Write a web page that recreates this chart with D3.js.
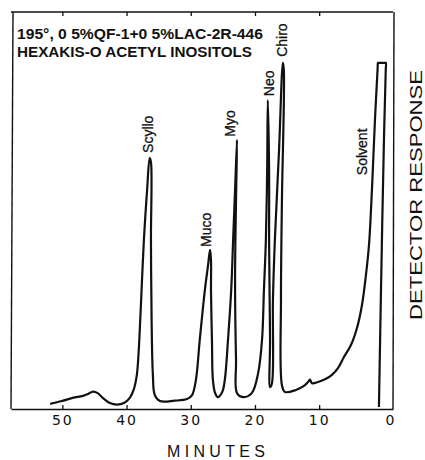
<!DOCTYPE html>
<html>
<head>
<meta charset="utf-8">
<script src="https://cdn.jsdelivr.net/npm/d3@7"></script>
<style>
body { margin: 0; background: #fff; }
text { font-family: "Liberation Sans", Arial, sans-serif; fill: #111; }
</style>
</head>
<body>
<svg width="425" height="460"></svg>
<script>
// trace: minutes (0 at the right) and detector response (0-100)
var traceMinutes = [51.9, 50.1, 48.4, 46.8, 46.0, 45.2, 44.5, 43.7, 42.6, 41.5, 40.4, 39.5, 38.9, 38.4, 38.1, 37.8, 37.3, 36.8, 36.4,
  36.2, 36.2, 36.1, 35.9, 35.6, 34.8, 32.5, 30.6, 29.8, 29.2, 28.6, 27.8, 27.3, 27.0,
  26.85, 26.85, 26.7, 26.55, 26.2, 25.8, 25.1, 24.7, 24.2, 23.7, 23.4, 23.1, 22.8,
  22.95, 23.1, 22.95, 22.8, 21.85, 20.5, 19.5, 18.9, 18.6, 18.3, 18.1, 18.0,
  17.8, 17.8, 17.65, 17.65, 17.35, 17.2, 16.9, 16.25, 15.65,
  15.5, 15.8, 15.95, 15.8, 15.33, 13.61, 12.37, 11.74, 11.43, 11.12, 10.19, 8.94, 8.01, 7.07, 6.14, 5.05,
  4.11, 3.33, 2.71, 2.24, 1.78, 1.31, 0.9, 0.84, 0.78, -0.34, -0.40, -0.37, -0.09, 0.37, 0.69];
var traceResponse = [1.3, 2.0, 2.8, 3.3, 3.8, 4.4, 4.0, 2.8, 1.5, 1.1, 1.5, 2.8, 4.8, 8.6, 14.9, 24.9, 42.6, 55.2, 63.2,
  62.2, 42.6, 22.4, 8.6, 3.5, 2.0, 2.1, 2.5, 3.5, 7.3, 17.4, 30.0, 36.3, 40.1,
  37.5, 30.0, 17.4, 7.3, 4.0, 3.0, 4.3, 7.3, 17.4, 30.0, 42.6, 55.2, 67.8,
  52.6, 32.5, 12.3, 4.0, 3.0, 4.0, 9.1, 17.4, 30.0, 42.6, 60.2, 77.8,
  60.2, 42.6, 17.4, 5.5, 6.5, 27.5, 42.6, 65.2, 87.2,
  85.4, 52.6, 27.5, 6.0, 4.3, 4.8, 5.8, 6.8, 7.4, 6.5, 6.8, 7.6, 8.6, 10.3, 13.1, 16.1,
  20.4, 26.2, 33.8, 41.3, 55.2, 72.8, 85.6, 87.2, 87.2, 87.2, 87.2, 85.4, 67.8, 30.0, 0.5];

var tickMinutes = [50, 40, 30, 20, 10, 0];
var topTickMinutes = [50, 40, 30, 20, 10];

var peakNames = ["Scyllo", "Muco", "Myo", "Neo", "Chiro", "Solvent"];
var peakMinutes = [36.7, 27.6, 23.8, 17.85, 15.8, 3.3];
var peakResponse = [64.5, 40.8, 68.6, 78.8, 88.7, 58.9];

var titleLines = ["195\u00b0, 0 5%QF-1+0 5%LAC-2R-446", "HEXAKIS-O ACETYL INOSITOLS"];

var svg = d3.select("svg");

var x = d3.scaleLinear().domain([58, -1.5]).range([11, 393]);
var y = d3.scaleLinear().domain([0, 100]).range([409, 12]);

// frame
var frame = svg.append("g")
  .attr("fill", "none")
  .attr("stroke", "#111")
  .attr("stroke-width", 1.4);
frame.append("line")
  .attr("x1", x.range()[0]).attr("x2", x.range()[1])
  .attr("y1", y.range()[1]).attr("y2", y.range()[1]);
frame.append("line")
  .attr("x1", x.range()[0] + 2).attr("x2", x.range()[0])
  .attr("y1", y.range()[1]).attr("y2", y.range()[0]);
frame.append("line")
  .attr("x1", x.range()[1] + 1).attr("x2", x.range()[1])
  .attr("y1", y.range()[1]).attr("y2", y.range()[0]);

// bottom axis
var xAxis = svg.append("g")
  .attr("transform", "translate(0," + y.range()[0] + ")")
  .call(d3.axisBottom(x)
    .tickValues(tickMinutes)
    .tickSize(-4)
    .tickSizeOuter(0)
    .tickPadding(6));
xAxis.select(".domain").attr("stroke", "#111").attr("stroke-width", 1.6);
xAxis.selectAll(".tick line").attr("stroke", "#111").attr("stroke-width", 1.3);
xAxis.selectAll(".tick").filter(function(d) { return d === 0; }).select("line").remove();
xAxis.selectAll(".tick text")
  .attr("fill", "#111")
  .attr("dx", function(d) { return d === 0 ? 7 : 0; })
  .style("font-family", "'DejaVu Sans', sans-serif")
  .style("font-size", "14px")
  .style("letter-spacing", "2px");

// top ticks
var topAxis = svg.append("g")
  .attr("transform", "translate(0," + y.range()[1] + ")")
  .call(d3.axisTop(x)
    .tickValues(topTickMinutes)
    .tickSize(-4)
    .tickFormat(""));
topAxis.select(".domain").remove();
topAxis.selectAll(".tick line").attr("stroke", "#111").attr("stroke-width", 1.3);

// chromatogram trace
var pts = traceMinutes.map(function(m, i) { return [m, traceResponse[i]]; });
var line = d3.line()
  .x(function(d) { return x(d[0]); })
  .y(function(d) { return y(d[1]); })
  .curve(d3.curveCatmullRom.alpha(0.5));

svg.append("path")
  .datum(pts)
  .attr("fill", "none")
  .attr("stroke", "#111")
  .attr("stroke-width", 2.2)
  .attr("stroke-linejoin", "round")
  .attr("d", line);

// peak labels, rotated
svg.append("g").selectAll("text")
  .data(peakNames)
  .enter().append("text")
  .attr("transform", function(d, i) {
    return "translate(" + x(peakMinutes[i]) + "," + y(peakResponse[i]) + ") rotate(-90)";
  })
  .attr("text-anchor", "start")
  .attr("dy", "0.35em")
  .style("font-size", "14px")
  .attr("stroke", "#111")
  .attr("stroke-width", 0.3)
  .text(function(d) { return d; });

// title block
svg.append("g").selectAll("text")
  .data(titleLines)
  .enter().append("text")
  .attr("x", 17)
  .attr("y", function(d, i) { return 39 + i * 18; })
  .attr("textLength", function(d, i) { return i == 0 ? 246 : 235; })
  .attr("lengthAdjust", "spacingAndGlyphs")
  .style("font-size", "14px")
  .style("font-weight", "bold")
  .text(function(d) { return d; });

// axis titles
svg.append("text")
  .attr("x", 216)
  .attr("y", 457)
  .attr("text-anchor", "middle")
  .attr("textLength", 98)
  .attr("lengthAdjust", "spacing")
  .style("font-size", "16px")
  .text("MINUTES");

svg.append("text")
  .attr("transform", "translate(422,195) rotate(-90)")
  .attr("text-anchor", "middle")
  .attr("textLength", 250)
  .attr("lengthAdjust", "spacingAndGlyphs")
  .style("font-size", "17px")
  .text("DETECTOR RESPONSE");
</script>
</body>
</html>
